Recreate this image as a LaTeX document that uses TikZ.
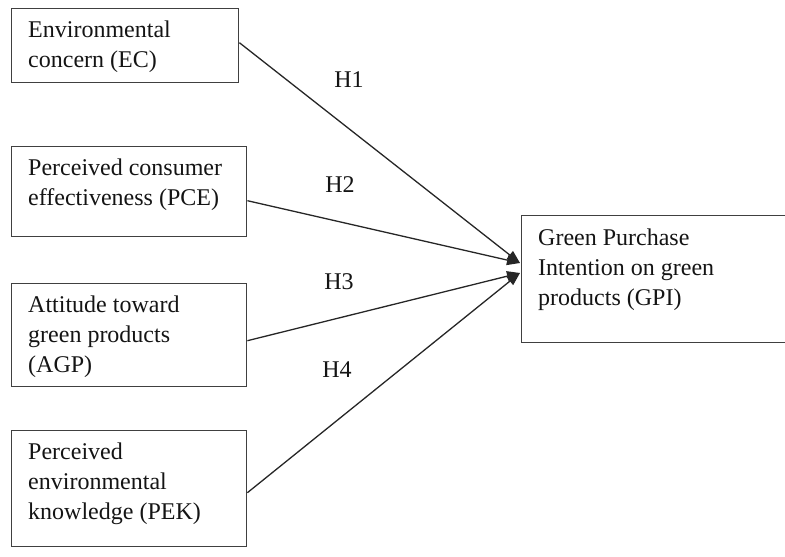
\documentclass[tikz,border=0pt]{standalone}
\usepackage{fontspec}
\setmainfont{Liberation Serif}
\usetikzlibrary{arrows.meta}
\begin{document}
\begin{tikzpicture}[x=1pt,y=-1pt,
  box/.style={draw=black!75, line width=1.4pt, inner sep=0pt, anchor=north west},
  lbl/.style={anchor=north west, align=left, inner xsep=17pt, inner ysep=13pt,
    font=\fontsize{24}{30}\selectfont, text=black!92},
  hyp/.style={font=\fontsize{24}{30}\selectfont, text=black!92, inner sep=0pt},
  link/.style={draw=black!85, line width=1.3pt, -{Triangle[length=13pt,width=10pt]}}]
\useasboundingbox (0,0) rectangle (785,557);
% boxes
\node[box, minimum width=227pt, minimum height=74pt] (ec) at (11,8) {};
\node[lbl] (ect) at (ec.north west) {Environmental\\concern (EC)};
\node[box, minimum width=235pt, minimum height=90pt] (pce) at (11,146) {};
\node[lbl] (pcet) at (pce.north west) {Perceived consumer\\effectiveness (PCE)};
\node[box, minimum width=235pt, minimum height=103pt] (agp) at (11,283) {};
\node[lbl] (agpt) at (agp.north west) {Attitude toward\\green products\\(AGP)};
\node[box, minimum width=235pt, minimum height=116pt] (pek) at (11,430) {};
\node[lbl] (pekt) at (pek.north west) {Perceived\\environmental\\knowledge (PEK)};
\node[box, minimum width=275pt, minimum height=127pt] (gpi) at (521,215) {};
\node[lbl, inner ysep=14pt] (gpit) at (gpi.north west) {Green Purchase\\Intention on green\\products (GPI)};
% arrow tips
\coordinate (t1) at (520,263);
\coordinate (t2) at (520,273);
% connectors
\draw[link] ([yshift=3pt]ec.east) -- (t1);
\draw[link] ([yshift=-9pt]pce.east) -- (t1);
\draw[link] ([yshift=-5.5pt]agp.east) -- (t2);
\draw[link] ([yshift=-4pt]pek.east) -- (t2);
% labels
\node[hyp] (h1) at (349,80) {H1};
\node[hyp] (h2) at (340,185) {H2};
\node[hyp] (h3) at (339,282) {H3};
\node[hyp] (h4) at (337,370) {H4};
\end{tikzpicture}
\end{document}
